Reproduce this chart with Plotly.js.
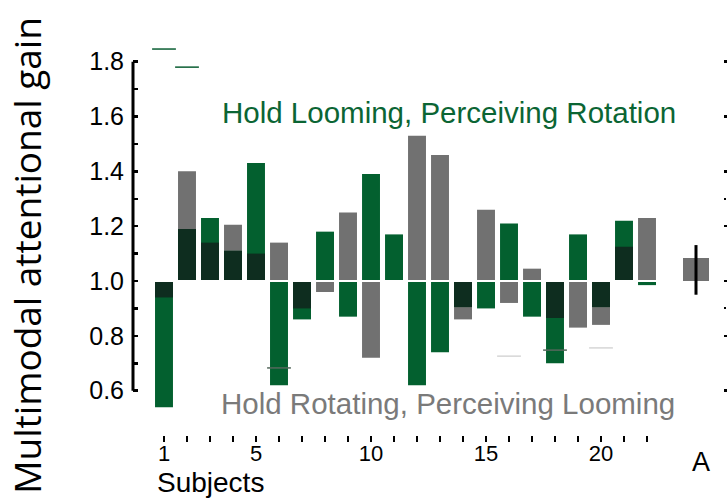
<!DOCTYPE html>
<html>
<head>
<meta charset="utf-8">
<script src="https://cdn.plot.ly/plotly-3.0.1.min.js"></script>
<style>
  body { margin: 0; background: #fff; }
  #chart { width: 727px; height: 500px; }
</style>
</head>
<body>
<div id="chart"></div>
<script>
// gain per subject
var subjects = [1, 2, 3, 4, 5, 6, 7, 8, 9, 10, 11, 12, 13, 14, 15, 16, 17, 18, 19, 20, 21, 22];
var greenGain = [0.54, 1.19, 1.23, 1.11, 1.43, 0.62, 0.86, 1.18, 0.87, 1.39, 1.17, 0.62, 0.74, 0.905, 0.90, 1.21, 0.87, 0.70, 1.17, 0.905, 1.22, 0.985];
var grayGain = [0.94, 1.40, 1.14, 1.205, 1.10, 1.14, 0.90, 0.96, 1.25, 0.72, 1.00, 1.53, 1.46, 0.86, 1.26, 0.92, 1.045, 0.865, 0.83, 0.84, 1.125, 1.23];
var xTickText = ['1', '', '', '', '5', '', '', '', '', '10', '', '', '', '', '15', '', '', '', '', '20', '', ''];

// average bar "A"
var avgPos = [24.13];
var avgGray = [1.084];
var avgErrPlus = [0.047];
var avgErrMinus = [0.134];

// small dash marks
var dashX = [1, 2, 6, 16, 18, 20];
var dashY = [1.846, 1.78, 0.683, 0.726, 0.748, 0.756];
var dashColor = ['#0b5e33', '#0b5e33', '#55685c', '#d6d6d6', '#55685c', '#d6d6d6'];

var GREEN = '#03602f';
var GRAY = '#717171';
var DARK = '#0e2d1f';
var baseline = 1.0;
var barW = 0.78;

function offsets(arr) {
  var out = [];
  for (var i = 0; i < arr.length; i++) out.push(arr[i] - baseline);
  return out;
}

// where both bars go the same way the shared part is dark
var overlap = [];
for (var i = 0; i < subjects.length; i++) {
  var g = greenGain[i] - baseline, r = grayGain[i] - baseline;
  if (g * r > 0) {
    overlap.push(g > 0 ? Math.min(g, r) : Math.max(g, r));
  } else {
    overlap.push(0);
  }
}

var traces = [
  {type: 'bar', x: subjects, y: offsets(grayGain), base: baseline, width: barW,
   marker: {color: GRAY}, hoverinfo: 'skip', showlegend: false},
  {type: 'bar', x: subjects, y: offsets(greenGain), base: baseline, width: barW,
   marker: {color: GREEN}, hoverinfo: 'skip', showlegend: false},
  {type: 'bar', x: subjects, y: overlap, base: baseline, width: barW,
   marker: {color: DARK}, hoverinfo: 'skip', showlegend: false},
  {type: 'bar', x: avgPos, y: offsets(avgGray), base: baseline, width: 1.13,
   marker: {color: GRAY}, hoverinfo: 'skip', showlegend: false},
  {type: 'scatter', mode: 'markers', x: avgPos, y: avgGray,
   marker: {size: 1, color: 'rgba(0,0,0,0)'},
   error_y: {type: 'data', symmetric: false, array: avgErrPlus, arrayminus: avgErrMinus,
             color: '#000', thickness: 3, width: 0},
   hoverinfo: 'skip', showlegend: false},
  {type: 'scatter', mode: 'markers', x: dashX, y: dashY,
   marker: {symbol: 'line-ew', size: 17, line: {width: 1.5, color: dashColor}},
   hoverinfo: 'skip', showlegend: false},
  // invisible trace to hold the right-hand tick column
  {type: 'scatter', x: [], y: [], yaxis: 'y2', showlegend: false}
];

var yMin = 0.4384, yMax = 1.9519;
var FONT = 'Liberation Sans, Arial, sans-serif';

var layout = {
  width: 727,
  height: 500,
  margin: {l: 133, r: 4, t: 20, b: 65},
  paper_bgcolor: '#fff',
  plot_bgcolor: '#fff',
  barmode: 'overlay',
  showlegend: false,
  xaxis: {
    range: [-0.348, 25.304],
    showgrid: false, zeroline: false, showline: false,
    tickmode: 'array', tickvals: subjects, ticktext: xTickText,
    ticks: 'outside', ticklen: 6, tickwidth: 2.5, tickcolor: '#000',
    ticklabelstandoff: -7,
    tickfont: {family: FONT, size: 22, color: '#000'}
  },
  yaxis: {
    range: [yMin, yMax],
    showgrid: false, zeroline: false, showline: false,
    tickmode: 'array',
    tickvals: [0.6, 0.8, 1.0, 1.2, 1.4, 1.6, 1.8],
    ticktext: ['0.6', '0.8', '1.0', '1.2', '1.4', '1.6', '1.8'],
    ticks: 'inside', ticklen: 5, tickwidth: 2.5, tickcolor: '#000',
    ticklabelstandoff: 8,
    tickfont: {family: FONT, size: 25, color: '#000'},
    minor: {tickmode: 'array', tickvals: [0.7, 0.9, 1.1, 1.3, 1.5, 1.7],
            ticks: 'inside', ticklen: 5, tickwidth: 2.5, tickcolor: '#000', showgrid: false}
  },
  yaxis2: {
    overlaying: 'y', side: 'right', anchor: 'x',
    range: [yMin, yMax],
    showgrid: false, zeroline: false, showline: false, showticklabels: false,
    tickmode: 'array', tickvals: [0.6, 0.8, 1.0, 1.2, 1.4, 1.6, 1.8],
    ticks: 'outside', ticklen: 4, tickwidth: 2.5, tickcolor: '#000',
    minor: {tickmode: 'array', tickvals: [0.9, 1.3],
            ticks: 'outside', ticklen: 2, tickwidth: 2, tickcolor: '#000', showgrid: false}
  },
  shapes: [
    // left axis line only from 0.6 to 1.8
    {type: 'line', xref: 'paper', yref: 'y', x0: 0, x1: 0, y0: 0.6, y1: 1.8,
     line: {color: '#000', width: 3}},
    // thin white gap at the baseline
    {type: 'line', xref: 'x', yref: 'y', x0: 0.4, x1: 22.6, y0: baseline, y1: baseline,
     line: {color: '#fff', width: 2}, layer: 'above'}
  ],
  annotations: [
    {text: 'Hold Looming, Perceiving Rotation', xref: 'x', yref: 'y', x: 13.39, y: 1.613,
     xanchor: 'center', yanchor: 'middle', showarrow: false,
     font: {family: FONT, size: 29.5, color: '#0b6534'}},
    {text: 'Hold Rotating, Perceiving Looming', xref: 'x', yref: 'y', x: 13.35, y: 0.554,
     xanchor: 'center', yanchor: 'middle', showarrow: false,
     font: {family: FONT, size: 29.5, color: '#7a7a7a'}},
    {text: 'Multimodal attentional gain', xref: 'paper', yref: 'paper',
     x: -0.18, y: 0.434, textangle: -90, xanchor: 'center', yanchor: 'middle', showarrow: false,
     font: {family: 'Open Sans, sans-serif', size: 37, color: '#000'}},
    {text: 'Subjects', xref: 'paper', yref: 'paper',
     x: (155 - 133) / 590, y: (435 - 482) / 415, xanchor: 'left', yanchor: 'middle', showarrow: false,
     font: {family: FONT, size: 28, color: '#000'}},
    {text: 'A', xref: 'paper', yref: 'paper',
     x: (701 - 133) / 590, y: (435 - 462) / 415, xanchor: 'center', yanchor: 'middle', showarrow: false,
     font: {family: FONT, size: 27, color: '#000'}}
  ]
};

Plotly.newPlot('chart', traces, layout, {displayModeBar: false, staticPlot: true});
</script>
</body>
</html>
